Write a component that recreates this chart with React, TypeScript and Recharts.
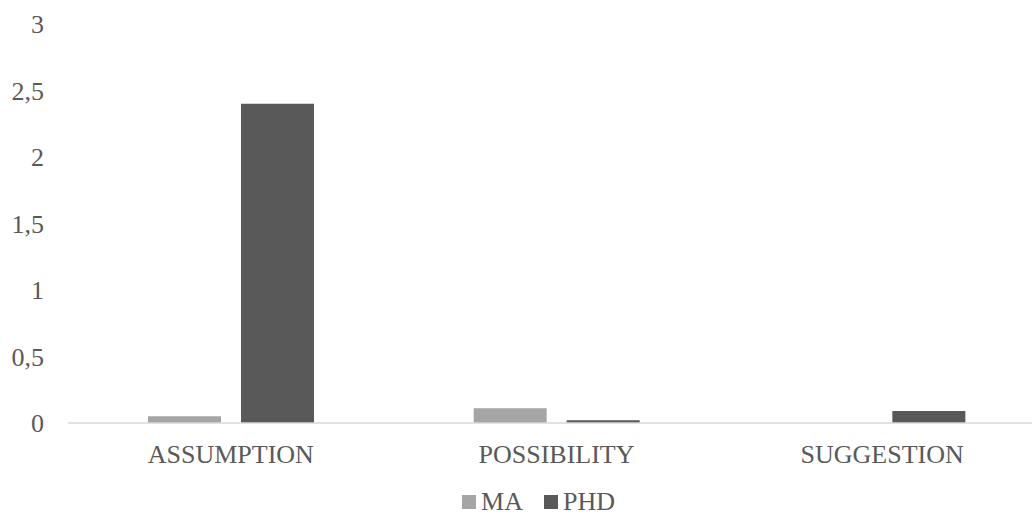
import { Bar, BarChart, Legend, XAxis, YAxis } from "recharts";

const categories = ["ASSUMPTION", "POSSIBILITY", "SUGGESTION"];
const maValues = [0.05, 0.11, 0];
const phdValues = [2.4, 0.02, 0.09];
const yTicks = [0, 0.5, 1, 1.5, 2, 2.5, 3];

const data = categories.map((name, i) => ({ name, MA: maValues[i], PHD: phdValues[i] }));

const FONT = "Liberation Serif, Times New Roman, serif";
const TEXT = "#595959";

function LegendContent({ payload }: any) {
  return (
    <div
      style={{
        display: "flex",
        justifyContent: "center",
        alignItems: "center",
        height: 22,
        fontFamily: FONT,
        fontSize: 26,
        lineHeight: "22px",
        color: TEXT
      }}
    >
      {(payload || []).map((entry: any, i: number) => (
        <div key={entry.value} style={{ display: "flex", alignItems: "center", marginRight: i === 0 ? 21 : 0 }}>
          <span style={{ display: "inline-block", width: 14, height: 14, background: entry.color, marginRight: 5 }} />
          <span>{entry.value}</span>
        </div>
      ))}
    </div>
  );
}

export default function App() {
  return (
    <div style={{ position: "fixed", left: 0, top: 0, width: 1032, height: 517, overflow: "hidden", background: "#fff" }}>
      <BarChart
        width={1060}
        height={517}
        data={data}
        margin={{ top: 24, right: 15, bottom: 0, left: 0 }}
        barSize={73}
        barGap={20}
      >
        <XAxis
          dataKey="name"
          height={72}
          axisLine={{ stroke: "#d9d9d9", strokeWidth: 1.5 }}
          tickLine={false}
          tickMargin={16}
          tick={{ fill: TEXT, fontSize: 26, fontFamily: FONT }}
          interval={0}
        />
        <YAxis
          width={68}
          domain={[0, 3]}
          ticks={yTicks}
          axisLine={false}
          tickLine={false}
          tickMargin={18}
          tick={{ fill: TEXT, fontSize: 26, fontFamily: FONT }}
          tickFormatter={(v) => String(v).replace(".", ",")}
        />
        <Legend
          verticalAlign="bottom"
          content={<LegendContent />}
          wrapperStyle={{ position: "absolute", left: 0, top: 491, width: 1077, height: 22 }}
        />
        <Bar dataKey="MA" name="MA" fill="#a5a5a5" isAnimationActive={false} />
        <Bar dataKey="PHD" name="PHD" fill="#595959" isAnimationActive={false} />
      </BarChart>
    </div>
  );
}
